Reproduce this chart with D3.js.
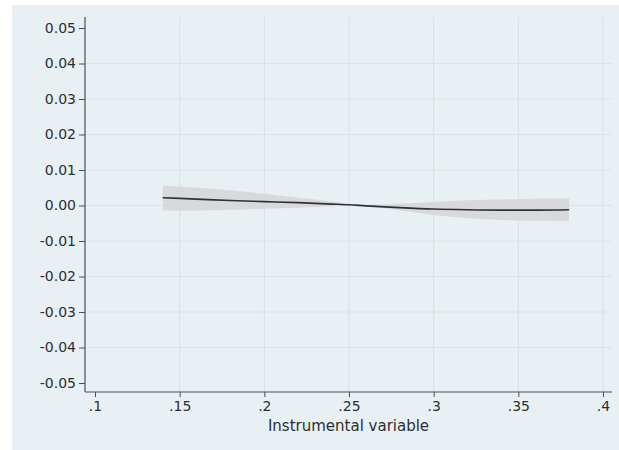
<!DOCTYPE html>
<html>
<head>
<meta charset="utf-8">
<script src="https://cdn.jsdelivr.net/npm/d3@7"></script>
<style>
  body { margin: 0; background: #fff; }
  svg { display: block; font-family: "DejaVu Sans", sans-serif; }
</style>
</head>
<body>
<div id="chart"></div>
<script>
// values
const xValues = [0.14, 0.16, 0.18, 0.20, 0.22, 0.24, 0.25, 0.26, 0.28, 0.30, 0.32, 0.34, 0.36, 0.38]
const fitValues = [0.0022, 0.0018, 0.0014, 0.0011, 0.0008, 0.0004, 0.0002, -0.0001, -0.0006, -0.0010, -0.0012, -0.0013, -0.0013, -0.0012]
const upperValues = [0.0056, 0.0050, 0.0043, 0.0033, 0.0022, 0.0011, 0.0004, 0.0002, 0.0005, 0.0010, 0.0015, 0.0017, 0.0019, 0.0020]
const lowerValues = [-0.0014, -0.0014, -0.0012, -0.0009, -0.0006, -0.0002, 0.0000, -0.0003, -0.0014, -0.0027, -0.0036, -0.0041, -0.0043, -0.0044]

const xTicks = [0.1, 0.15, 0.2, 0.25, 0.3, 0.35, 0.4]
const xTickLabels = ['.1', '.15', '.2', '.25', '.3', '.35', '.4']
const yTicks = [0.05, 0.04, 0.03, 0.02, 0.01, 0, -0.01, -0.02, -0.03, -0.04, -0.05]
const xTitle = 'Instrumental variable'

const width = 619, height = 450
const plot = { left: 85, right: 612, top: 17, bottom: 392 }

const svg = d3.select('#chart')
  .append('svg')
  .attr('width', width)
  .attr('height', height)

// light panel behind everything
svg.append('rect')
  .attr('x', 12).attr('y', 5)
  .attr('width', width - 12).attr('height', height - 5)
  .attr('fill', '#e9f0f3')

let x = d3.scaleLinear()
  .domain([0.1 - 10 / 1694, 0.4 + 9 / 1694])
  .range([plot.left, plot.right])

let y = d3.scaleLinear()
  .domain([-0.05 - 9 / 3550, 0.05 + 11 / 3550])
  .range([plot.bottom, plot.top])

// grid, skipping lines that sit on the outer ticks like the original
svg.append('g')
  .selectAll('line')
  .data(yTicks.filter(d => Math.abs(d) < 0.045))
  .enter().append('line')
    .attr('x1', plot.left).attr('x2', plot.right)
    .attr('y1', d => y(d)).attr('y2', d => y(d))
    .attr('stroke', '#dbe3e6')
    .attr('stroke-width', 1.2)

svg.append('g')
  .selectAll('line')
  .data(xTicks.filter(d => d > 0.12))
  .enter().append('line')
    .attr('x1', d => x(d)).attr('x2', d => x(d))
    .attr('y1', plot.top).attr('y2', plot.bottom)
    .attr('stroke', '#dbe3e6')
    .attr('stroke-width', 1.2)

let rows = xValues.map((v, i) => ({ x: v, fit: fitValues[i], hi: upperValues[i], lo: lowerValues[i] }))

let band = d3.area()
  .x(d => x(d.x))
  .y0(d => y(d.lo))
  .y1(d => y(d.hi))
  .curve(d3.curveMonotoneX)

svg.append('path')
  .datum(rows)
  .attr('d', band)
  .attr('fill', '#d6d6d8')
  .attr('fill-opacity', 0.9)

let line = d3.line()
  .x(d => x(d.x))
  .y(d => y(d.fit))
  .curve(d3.curveMonotoneX)

svg.append('path')
  .datum(rows)
  .attr('d', line)
  .attr('fill', 'none')
  .attr('stroke', '#2e3236')
  .attr('stroke-width', 1.6)

// axes
let xAxis = d3.axisBottom(x)
  .tickValues(xTicks)
  .tickFormat((d, i) => xTickLabels[i])
  .tickSize(5)
  .tickPadding(4)

// stata prints a plain hyphen, not the unicode minus
let fmt = d3.format('.2f')
let yAxis = d3.axisLeft(y)
  .tickValues(yTicks)
  .tickFormat(d => fmt(d).replace('\u2212', '-'))
  .tickSize(6)
  .tickPadding(3)

let gx = svg.append('g')
  .attr('transform', `translate(0,${plot.bottom})`)
  .call(xAxis)

let gy = svg.append('g')
  .attr('transform', `translate(${plot.left},0)`)
  .call(yAxis)

for (const g of [gx, gy]) {
  g.select('.domain').attr('stroke', '#4a4f53').attr('stroke-width', 1.2)
  g.selectAll('.tick line').attr('stroke', '#4a4f53').attr('stroke-width', 1)
  g.selectAll('.tick text')
    .attr('fill', '#2b2f33')
    .style('font-family', '"DejaVu Sans", sans-serif')
    .style('font-size', '14px')
}
gy.select('.domain').attr('d', `M0,${plot.top}V${plot.bottom}`)
gx.select('.domain').attr('d', `M${plot.left},0H${plot.right}`)

svg.append('text')
  .attr('x', (plot.left + plot.right) / 2)
  .attr('y', 431)
  .attr('text-anchor', 'middle')
  .attr('fill', '#2b2f33')
  .style('font-size', '15px')
  .text(xTitle)
</script>
</body>
</html>
